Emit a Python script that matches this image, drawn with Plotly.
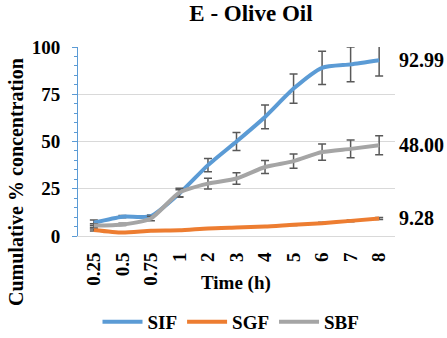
import plotly.graph_objects as go

time_labels = ["0.25", "0.5", "0.75", "1", "2", "3", "4", "5", "6", "7", "8"]
sif = [7.0, 10.2, 10.5, 22.5, 37.5, 50.0, 63.0, 78.0, 89.0, 90.8, 92.99]
sif_err = [1.5, 0.6, 0.6, 2.0, 3.5, 4.8, 6.3, 7.7, 8.8, 9.2, 8.3]
sgf = [3.2, 1.8, 2.8, 3.0, 4.0, 4.5, 5.0, 6.0, 6.8, 8.0, 9.28]
sgf_err = [0.5, 0.3, 0.3, 0.3, 0.4, 0.4, 0.4, 0.5, 0.5, 0.5, 0.5]
sbf = [5.5, 6.1, 9.3, 23.0, 27.7, 30.4, 36.5, 39.6, 44.4, 46.1, 48.00]
sbf_err = [1.0, 0.6, 1.2, 2.2, 2.8, 3.0, 3.4, 3.8, 4.3, 4.7, 5.0]
end_labels = ["92.99", "9.28", "48.00"]

series = [("SIF", sif, sif_err, "#5B9BD5"),
          ("SGF", sgf, sgf_err, "#ED7D31"),
          ("SBF", sbf, sbf_err, "#A5A5A5")]


def F(size):
    return dict(family="Liberation Serif", size=size, color="black", weight="bold")


fig = go.Figure()
for (name, vals, errs, color), lab in zip(series, end_labels):
    fig.add_trace(go.Scatter(
        x=time_labels, y=vals, name=name, mode="lines",
        line=dict(color=color, width=4, shape="spline", smoothing=0.6),
        error_y=dict(type="data", array=errs, visible=True,
                     color="#595959", thickness=1.5, width=4),
    ))
    fig.add_annotation(x=1.0, xref="paper", y=vals[-1], yref="y",
                       text=lab, showarrow=False,
                       xanchor="left", xshift=2, font=F(20))

fig.add_annotation(xref="paper", yref="paper",
                   x=(16 - 78) / (395 - 78), y=(236 - 182) / (236 - 47),
                   xanchor="center", yanchor="middle",
                   text="Cumulative % concentration", showarrow=False,
                   textangle=-90, font=F(20))
fig.add_annotation(xref="paper", yref="paper",
                   x=(236 - 78) / (395 - 78), y=-(283 - 236) / (236 - 47),
                   xanchor="center", yanchor="middle",
                   text="Time (h)", showarrow=False, font=F(19))

fig.update_layout(
    width=447, height=338,
    margin=dict(l=78, r=52, t=47, b=102, autoexpand=False),
    paper_bgcolor="white", plot_bgcolor="white",
    title=dict(text="E - Olive Oil", x=251 / 447, xanchor="center",
               y=1 - 13 / 338, yanchor="middle", font=F(23)),
    showlegend=True,
    legend=dict(orientation="h", x=(231 - 78) / (395 - 78), xanchor="center",
                y=-(322 - 236) / (236 - 47), yanchor="middle",
                font=F(19), itemwidth=40, tracegroupgap=0),
    xaxis=dict(
        type="category", tickangle=-90, showgrid=False,
        showline=True, linecolor="#D9D9D9", linewidth=1,
        ticks="", tickfont=F(19), ticklabelstandoff=8, automargin=False,
    ),
    yaxis=dict(
        range=[0, 100], tickvals=[0, 25, 50, 75, 100],
        showgrid=True, gridcolor="#D9D9D9", gridwidth=1,
        showline=True, linecolor="#5B9BD5", linewidth=1,
        ticks="outside", ticklen=5, tickcolor="#5B9BD5",
        minor=dict(dtick=5, ticks="outside", ticklen=3, tickcolor="#5B9BD5", showgrid=False),
        zeroline=False, tickfont=F(19), ticklabelstandoff=8, automargin=False,
    ),
)

fig.write_html("out.html")
